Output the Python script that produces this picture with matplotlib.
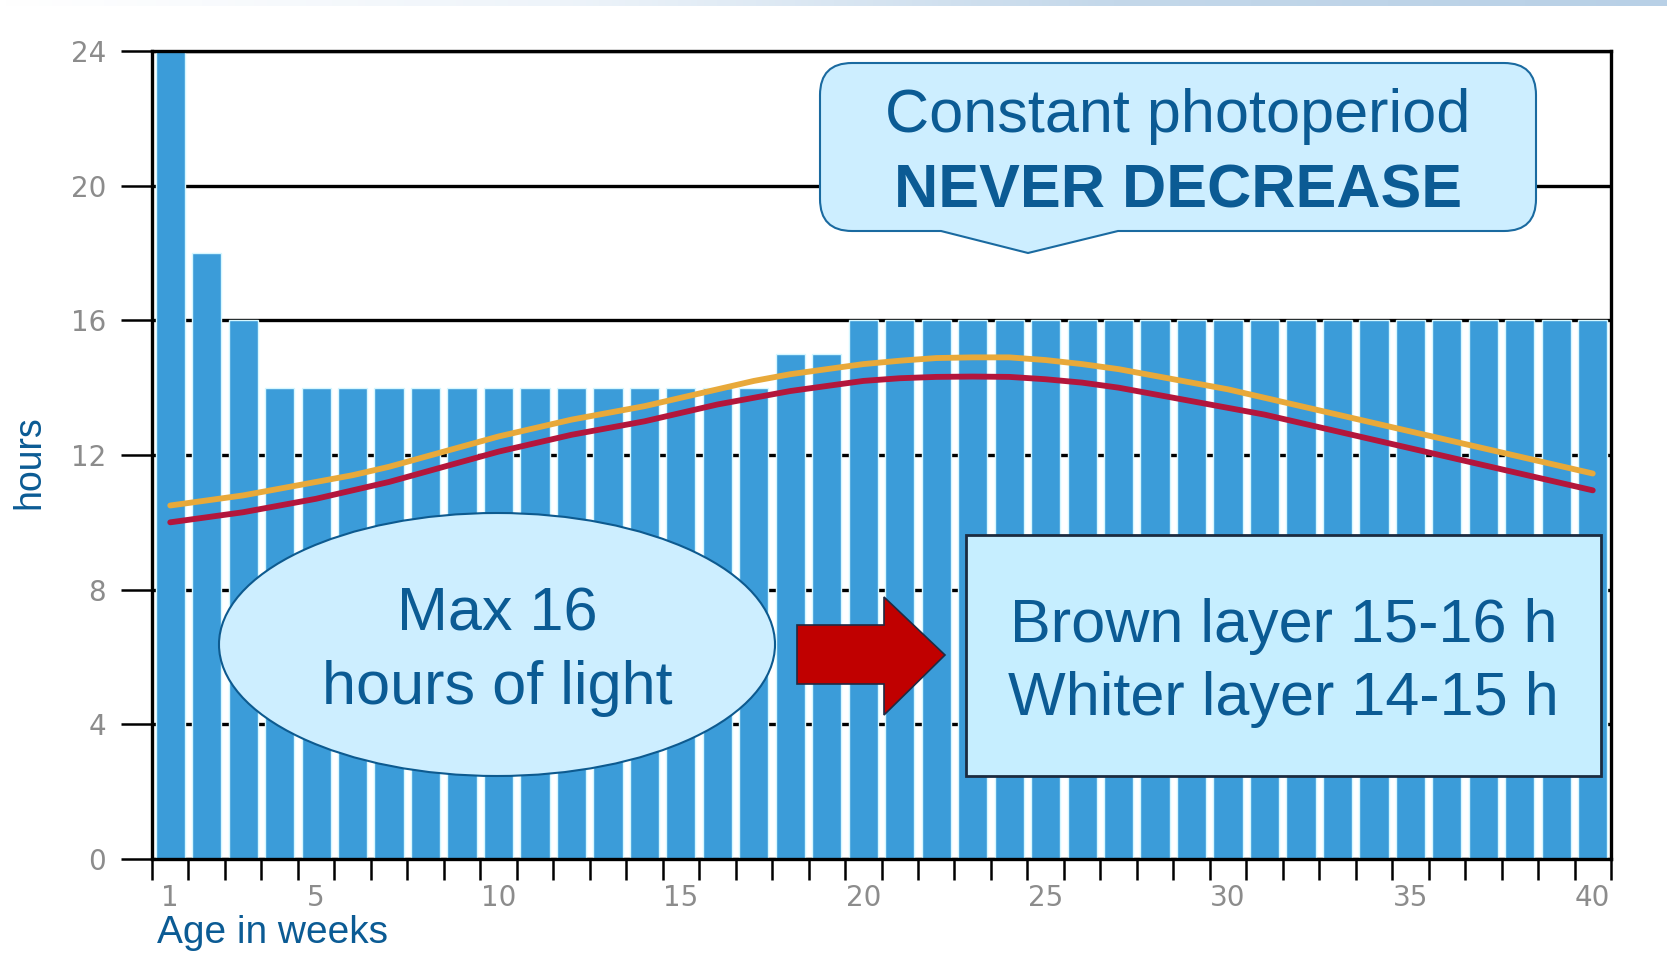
import numpy as np
import matplotlib.pyplot as plt
import matplotlib.transforms as mtransforms
from matplotlib.patches import Ellipse, Rectangle, Polygon, PathPatch
from matplotlib.path import Path

# hours of light per week of age
weeks = list(range(1, 41))
light_hours = [24, 18, 16, 14, 14, 14, 14, 14, 14, 14,
               14, 14, 14, 14, 14, 14, 14, 15, 15, 16,
               16, 16, 16, 16, 16, 16, 16, 16, 16, 16,
               16, 16, 16, 16, 16, 16, 16, 16, 16, 16]

# natural day length curves
upper_curve = [10.5, 10.65, 10.8, 11.0, 11.2, 11.4, 11.65, 11.95, 12.25, 12.55,
               12.8, 13.05, 13.25, 13.45, 13.7, 13.95, 14.2, 14.4, 14.55, 14.7,
               14.8, 14.88, 14.9, 14.9, 14.82, 14.7, 14.55, 14.35, 14.15, 13.95,
               13.7, 13.45, 13.2, 12.95, 12.7, 12.45, 12.2, 11.95, 11.7, 11.45]
lower_curve = [10.0, 10.15, 10.3, 10.5, 10.7, 10.95, 11.2, 11.5, 11.8, 12.1,
               12.35, 12.6, 12.8, 13.0, 13.25, 13.5, 13.7, 13.9, 14.05, 14.2,
               14.28, 14.32, 14.33, 14.32, 14.25, 14.15, 14.0, 13.8, 13.6, 13.4,
               13.2, 12.95, 12.7, 12.45, 12.2, 11.95, 11.7, 11.45, 11.2, 10.95]

x_labels = [1, 5, 10, 15, 20, 25, 30, 35, 40]
y_ticks = [0, 4, 8, 12, 16, 20, 24]

W, H = 1667, 955
BLUE_TEXT = '#0b5b94'
FONT = 'Liberation Sans'

fig = plt.figure(figsize=(W / 100, H / 100), dpi=100)
ax = fig.add_axes([152 / W, 1 - 859 / H, (1611 - 152) / W, (859 - 51) / H])

# pixel coordinates (origin top-left) for the annotation shapes
pix = mtransforms.Affine2D().scale(1 / W, -1 / H).translate(0, 1) + fig.transFigure

# thin header strip
band = fig.add_axes([0, 1 - 6 / H, 1, 6 / H])
grad = np.linspace(0, 1, 256)[None, :]
band.imshow(grad, aspect='auto', cmap=plt.matplotlib.colors.LinearSegmentedColormap.from_list(
    'hdr', ['#ffffff', '#eef4fa', '#c4d8ea', '#b8d0e6']))
band.axis('off')

ax.bar(weeks, light_hours, width=0.8, color='#3b9cd9', edgecolor='#d6f7ff',
       linewidth=1.0, zorder=2)
ax.plot(weeks, upper_curve, color='#e8a93a', lw=4.2, zorder=3, solid_capstyle='round')
ax.plot(weeks, lower_curve, color='#b3163c', lw=4.2, zorder=3, solid_capstyle='round')

ax.set_xlim(0.5, 40.5)
ax.set_ylim(0, 24)
ax.set_xticks(x_labels)
ax.set_xticks(np.arange(0.5, 41, 1), minor=True)
ax.tick_params(axis='x', which='major', length=0, pad=18, labelsize=20, labelcolor='#8c8c8c')
ax.tick_params(axis='x', which='minor', length=15, width=1.8, color='black', direction='out')
ax.set_yticks(y_ticks)
ax.tick_params(axis='y', length=22, width=1.8, color='black', pad=11,
               labelsize=20, labelcolor='#8c8c8c')
ax.yaxis.grid(True, color='black', lw=2.4)
ax.set_axisbelow(True)
for s in ax.spines.values():
    s.set_linewidth(2.4)
    s.set_color('black')

fig.text(29 / W, 1 - 462 / H, 'hours', rotation=90, ha='center', va='center',
         fontsize=27, color=BLUE_TEXT, family=FONT)
fig.text(157 / W, 1 - 943 / H, 'Age in weeks', ha='left', va='baseline',
         fontsize=28, color=BLUE_TEXT, family=FONT)

# speech callout at the top
L, R, T, B, r = 820, 1536, 63, 231, 32
x1, x2, tip = 941, 1118, (1028, 253)
verts = [(L + r, T), (R - r, T), (R, T), (R, T + r), (R, B - r), (R, B), (R - r, B),
         (x2, B), tip, (x1, B), (L + r, B), (L, B), (L, B - r), (L, T + r), (L, T),
         (L + r, T), (L + r, T)]
codes = [Path.MOVETO, Path.LINETO, Path.CURVE3, Path.CURVE3, Path.LINETO, Path.CURVE3,
         Path.CURVE3, Path.LINETO, Path.LINETO, Path.LINETO, Path.LINETO, Path.CURVE3,
         Path.CURVE3, Path.LINETO, Path.CURVE3, Path.CURVE3, Path.CLOSEPOLY]
ax.add_patch(PathPatch(Path(verts, codes), transform=pix, facecolor='#cdeeff',
                       edgecolor='#1a6aa0', lw=1.5, zorder=5, clip_on=False))
ax.text(1178, 132, 'Constant photoperiod', transform=pix, ha='center', va='baseline',
        fontsize=44, color=BLUE_TEXT, family=FONT, zorder=6)
ax.text(1178, 207, 'NEVER DECREASE', transform=pix, ha='center', va='baseline',
        fontsize=44, fontweight='bold', color=BLUE_TEXT, family=FONT, zorder=6)

# ellipse note
ax.add_patch(Ellipse((497, 644.5), 556, 263, transform=pix, facecolor='#cdeeff',
                     edgecolor='#0d5a8f', lw=1.5, zorder=5, clip_on=False))
ax.text(497, 630, 'Max 16', transform=pix, ha='center', va='baseline',
        fontsize=44, color=BLUE_TEXT, family=FONT, zorder=6)
ax.text(497, 704, 'hours of light', transform=pix, ha='center', va='baseline',
        fontsize=44, color=BLUE_TEXT, family=FONT, zorder=6)

# block arrow
arrow = [(797, 625), (884, 625), (884, 597), (945, 655), (884, 715), (884, 684), (797, 684)]
ax.add_patch(Polygon(arrow, closed=True, transform=pix, facecolor='#c00000',
                     edgecolor='#1f2a44', lw=1.2, zorder=5, clip_on=False))

# recommendation box
ax.add_patch(Rectangle((966, 535), 635, 241, transform=pix, facecolor='#c6eeff',
                       edgecolor='#1b2b40', lw=2, zorder=5, clip_on=False))
ax.text(1283.5, 642, 'Brown layer 15-16 h', transform=pix, ha='center', va='baseline',
        fontsize=44, color=BLUE_TEXT, family=FONT, zorder=6)
ax.text(1283.5, 715, 'Whiter layer 14-15 h', transform=pix, ha='center', va='baseline',
        fontsize=44, color=BLUE_TEXT, family=FONT, zorder=6)

fig.savefig('out.png', dpi=100)
